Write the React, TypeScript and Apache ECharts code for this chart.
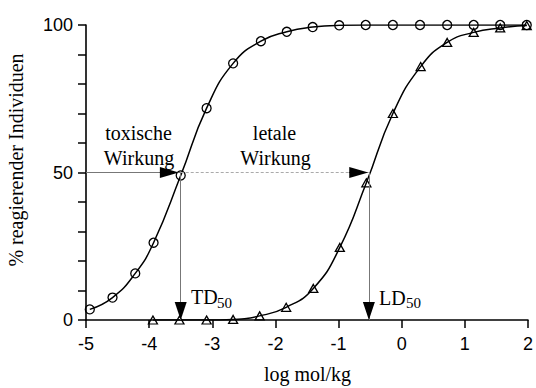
import React, { useEffect, useRef } from "react";
import * as echarts from "echarts";

// toxic effect (circles)
const circleX = [-4.94, -4.58, -4.22, -3.93, -3.5, -3.09, -2.67, -2.23, -1.82, -1.41, -0.99, -0.57, -0.14, 0.29, 0.72, 1.14, 1.56, 1.98];
const circleY = [3.6, 7.6, 15.8, 26.2, 49, 71.8, 87, 94.5, 97.7, 99.3, 99.9, 100, 100, 100, 100, 100, 100, 100];

// lethal effect (triangles)
const triangleX = [-3.94, -3.52, -3.09, -2.67, -2.25, -1.83, -1.4, -0.98, -0.56, -0.14, 0.3, 0.72, 1.14, 1.56, 1.98];
const triangleY = [0, 0, 0, 0.2, 1.4, 4.3, 10.7, 24.6, 46.5, 70, 85.9, 94.1, 97.5, 99, 99.8];

const xMin = -5;
const xMax = 2;
const yLabelValues = [0, 50, 100];

const TD50 = -3.5;
const LD50 = -0.52;
const LEVEL = 50;

const serif = "'Liberation Serif', 'DejaVu Serif', serif";
const sans = "'Liberation Sans', Arial, sans-serif";

export default function App() {
  const ref = useRef<HTMLDivElement>(null);

  useEffect(() => {
    const chart = echarts.init(ref.current!, null, { renderer: "svg" });
    const circles = circleX.map((x, i) => [x, circleY[i]]);
    const triangles = triangleX.map((x, i) => [x, triangleY[i]]);

    const hArrowLen = 0.3; // data units along x
    const vArrowLen = 6.1; // data units along y
    const tdTip = TD50 - 0.03;
    const ldTip = LD50 - 0.01;

    const helper = (lineStyle: any, data: any[]) => ({
      type: "line",
      data: [],
      silent: true,
      z: 1,
      markLine: {
        silent: true,
        animation: false,
        symbol: ["none", "none"],
        label: { show: false },
        emphasis: { disabled: true },
        lineStyle,
        data,
      },
    });

    chart.setOption({
      animation: false,
      grid: { left: 86, right: 7, top: 25, bottom: 68 },
      xAxis: {
        type: "value",
        min: xMin,
        max: xMax,
        interval: 1,
        splitLine: { show: false },
        axisLine: { onZero: false, lineStyle: { color: "#000", width: 1.6 } },
        axisTick: { length: 8, lineStyle: { color: "#000", width: 1.5 } },
        axisLabel: { color: "#000", fontSize: 18, fontFamily: sans, margin: 15 },
      },
      yAxis: {
        type: "value",
        min: 0,
        max: 100,
        interval: 10,
        splitLine: { show: false },
        axisLine: { show: true, onZero: false, lineStyle: { color: "#000", width: 1.6 } },
        axisTick: { show: true, length: 8, lineStyle: { color: "#000", width: 1.5 } },
        axisLabel: {
          color: "#000",
          fontSize: 18,
          fontFamily: sans,
          margin: 13,
          formatter: (v: number) => (yLabelValues.includes(v) ? String(v) : ""),
        },
      },
      series: [
        helper({ color: "#777", width: 1, type: "solid" }, [
          [{ coord: [xMin, LEVEL] }, { coord: [TD50, LEVEL] }],
          [{ coord: [TD50, LEVEL] }, { coord: [TD50, 0] }],
          [{ coord: [LD50, LEVEL] }, { coord: [LD50, 0] }],
        ]),
        helper({ color: "#aaa", width: 1, type: [3, 2] }, [
          [{ coord: [TD50, LEVEL] }, { coord: [LD50, LEVEL] }],
        ]),
        helper({ color: "#000", width: 1, type: "solid" }, [
          [
            { coord: [tdTip - hArrowLen, LEVEL] },
            { coord: [tdTip - hArrowLen / 2, LEVEL], symbol: "triangle", symbolSize: [11, 19] },
          ],
          [
            { coord: [ldTip - hArrowLen, LEVEL] },
            { coord: [ldTip - hArrowLen / 2, LEVEL], symbol: "triangle", symbolSize: [11, 19] },
          ],
          [
            { coord: [TD50, vArrowLen] },
            { coord: [TD50, vArrowLen / 2], symbol: "triangle", symbolSize: [12, 18] },
          ],
          [
            { coord: [LD50, vArrowLen] },
            { coord: [LD50, vArrowLen / 2], symbol: "triangle", symbolSize: [12, 18] },
          ],
        ]),
        {
          name: "toxisch",
          type: "line",
          data: circles,
          smooth: 0.5,
          symbol: "circle",
          symbolSize: 9,
          z: 3,
          lineStyle: { color: "#000", width: 1.5 },
          itemStyle: { color: "rgba(0,0,0,0)", borderColor: "#000", borderWidth: 1.3 },
        },
        {
          name: "letal",
          type: "line",
          data: triangles,
          smooth: 0.5,
          symbol: "triangle",
          symbolSize: [9, 8],
          z: 3,
          lineStyle: { color: "#000", width: 1.5 },
          itemStyle: { color: "rgba(0,0,0,0)", borderColor: "#000", borderWidth: 1.3 },
        },
      ],
      graphic: [
        { type: "text", x: 138.5, y: 133.3, style: { text: "toxische", font: `20px ${serif}`, fill: "#000", align: "center", verticalAlign: "middle" } },
        { type: "text", x: 139, y: 157.5, style: { text: "Wirkung", font: `20px ${serif}`, fill: "#000", align: "center", verticalAlign: "middle" } },
        { type: "text", x: 274.5, y: 133.3, style: { text: "letale", font: `20px ${serif}`, fill: "#000", align: "center", verticalAlign: "middle" } },
        { type: "text", x: 275.5, y: 158, style: { text: "Wirkung", font: `20px ${serif}`, fill: "#000", align: "center", verticalAlign: "middle" } },
        { type: "text", x: 191, y: 297.3, style: { text: "TD", font: `20px ${serif}`, fill: "#000", align: "left", verticalAlign: "middle" } },
        { type: "text", x: 217, y: 303, style: { text: "50", font: `15px ${serif}`, fill: "#000", align: "left", verticalAlign: "middle" } },
        { type: "text", x: 379, y: 297.8, style: { text: "LD", font: `20px ${serif}`, fill: "#000", align: "left", verticalAlign: "middle" } },
        { type: "text", x: 406, y: 303, style: { text: "50", font: `15px ${serif}`, fill: "#000", align: "left", verticalAlign: "middle" } },
        { type: "text", x: 307.5, y: 374.3, style: { text: "log mol/kg", font: `20px ${serif}`, fill: "#000", align: "center", verticalAlign: "middle" } },
        { type: "text", x: 16, y: 160, rotation: Math.PI / 2, style: { text: "% reagierender Individuen", font: `20px ${serif}`, fill: "#000", align: "center", verticalAlign: "middle" } },
      ],
    });

    return () => chart.dispose();
  }, []);

  return (
    <div
      ref={ref}
      style={{ position: "fixed", left: 0, top: 0, width: 536, height: 388, background: "#fff" }}
    />
  );
}
